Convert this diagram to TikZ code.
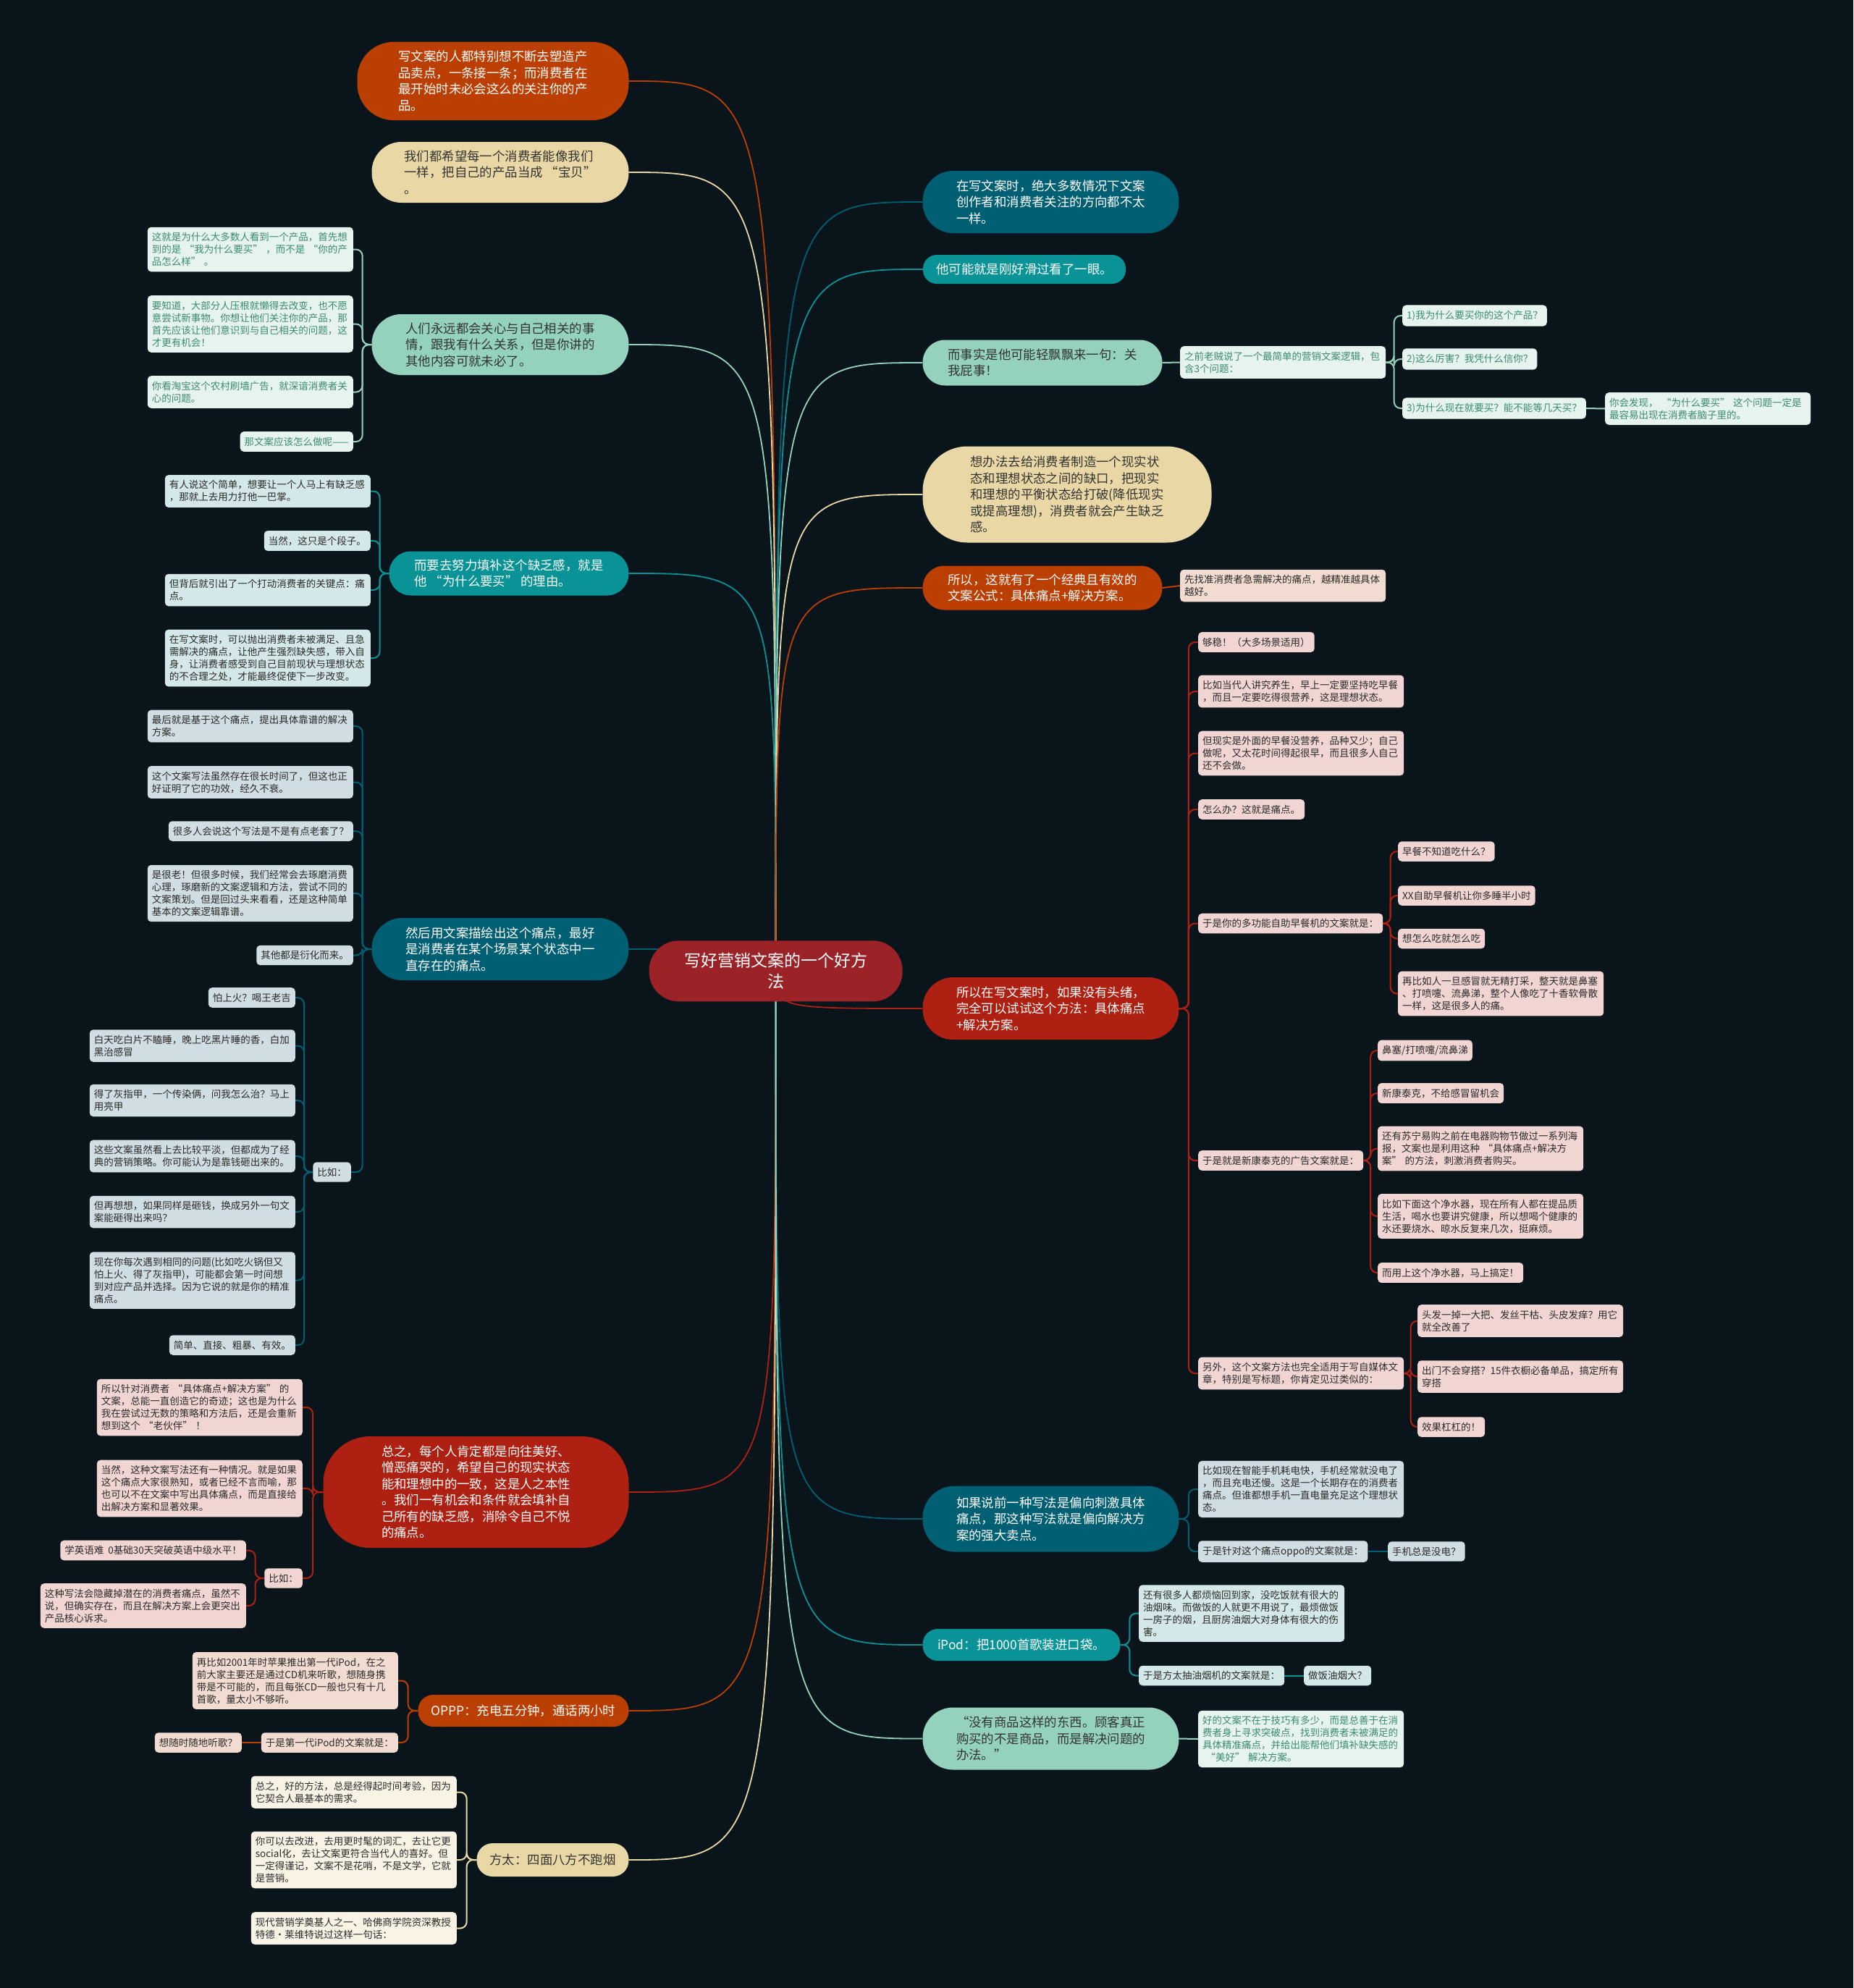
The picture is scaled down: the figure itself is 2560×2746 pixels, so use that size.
\documentclass[tikz,border=0pt]{standalone}
\usepackage{fontspec}
\setmainfont{Noto Sans CJK SC}
\usetikzlibrary{calc}
\pgfdeclarelayer{bg}
\pgfdeclarelayer{edges}
\pgfsetlayers{bg,edges,main}
\definecolor{bgc}{HTML}{0A141B}
\definecolor{cDT}{HTML}{005F73}
\definecolor{cT}{HTML}{0A9396}
\definecolor{cLT}{HTML}{94D2BD}
\definecolor{cB}{HTML}{E9D8A6}
\definecolor{cO}{HTML}{BB3E03}
\definecolor{cR}{HTML}{AE2012}
\definecolor{cC}{HTML}{9B2226}
\definecolor{fLT}{HTML}{E6F3EE}
\definecolor{tLT}{HTML}{3A8B72}
\definecolor{fT}{HTML}{D4E8E9}
\definecolor{fDT}{HTML}{D0DDE2}
\definecolor{fR}{HTML}{F0D5D3}
\definecolor{fO}{HTML}{F2DCD1}
\definecolor{fB}{HTML}{F8F3E5}
\definecolor{tDk}{HTML}{2B2B2B}
\definecolor{tMn}{HTML}{333333}
\newcommand{\LeafFnt}{\fontsize{13.5}{17}\selectfont}
\newcommand{\MainFnt}{\fontsize{17.4}{22.5}\selectfont}
\newcommand{\CtrFnt}{\fontsize{23}{29}\selectfont}
\begin{document}
\begin{tikzpicture}[x=1pt,y=-1pt,
 lf/.style={rounded corners=5pt, inner xsep=6pt, inner ysep=7.5pt, align=left, font=\LeafFnt, text=tDk},
 ml/.style={text width=272pt},
 kLT/.style={lf, fill=fLT, text=tLT},
 kT/.style={lf, fill=fT},
 kDT/.style={lf, fill=fDT},
 kR/.style={lf, fill=fR},
 kO/.style={lf, fill=fO},
 kB/.style={lf, fill=fB},
 mn/.style={align=left, font=\MainFnt, inner sep=2pt},
 lnk/.style={line width=2pt, rounded corners=9pt},
 mc/.style={line width=1.8pt},
]
\begin{pgfonlayer}{bg}
\fill[bgc] (0,0) rectangle (2560,2746);
\end{pgfonlayer}
\useasboundingbox (0,0) rectangle (2560,2746);

% center
\node[fill=cC, text=white, rounded corners=41pt, minimum width=350pt, minimum height=84pt, align=center, font=\CtrFnt] (C) at (1071.6,1341.3) {写好营销文案的一个好方\\法};

% left main nodes
\node[mn, fill=cO, text=white, rounded corners=50pt, minimum width=375pt, minimum height=108pt] (L1) at (681,112) {写文案的人都特别想不断去塑造产\\品卖点，一条接一条；而消费者在\\最开始时未必会这么的关注你的产\\品。};
\node[mn, fill=cB, text=tMn, rounded corners=41pt, minimum width=355pt, minimum height=84pt] (L2) at (691,238) {我们都希望每一个消费者能像我们\\一样，把自己的产品当成 “宝贝”\\。};
\node[mn, fill=cLT, text=tMn, rounded corners=41pt, minimum width=355pt, minimum height=84pt] (L3) at (691,476) {人们永远都会关心与自己相关的事\\情，跟我有什么关系，但是你讲的\\其他内容可就未必了。};
\node[mn, fill=cT, text=white, rounded corners=30pt, minimum width=331pt, minimum height=61pt] (L4) at (703,792) {而要去努力填补这个缺乏感，就是\\他 “为什么要买” 的理由。};
\node[mn, fill=cDT, text=white, rounded corners=42pt, minimum width=355pt, minimum height=86pt] (L5) at (691,1311) {然后用文案描绘出这个痛点，最好\\是消费者在某个场景某个状态中一\\直存在的痛点。};
\node[mn, fill=cR, text=white, rounded corners=65pt, minimum width=422pt, minimum height=154pt] (L6) at (657.5,2061) {总之，每个人肯定都是向往美好、\\憎恶痛哭的，希望自己的现实状态\\能和理想中的一致，这是人之本性\\。我们一有机会和条件就会填补自\\己所有的缺乏感，消除令自己不悦\\的痛点。};
\node[mn, fill=cO, text=white, rounded corners=21pt, minimum width=291pt, minimum height=44pt] (L7) at (723,2363) {OPPP：充电五分钟，通话两小时};
\node[mn, fill=cB, text=tMn, rounded corners=22pt, minimum width=210pt, minimum height=46pt] (L8) at (763.5,2569) {方太：四面八方不跑烟};

% right main nodes
\node[mn, fill=cDT, text=white, rounded corners=42pt, minimum width=354pt, minimum height=86pt] (R1) at (1451.5,279) {在写文案时，绝大多数情况下文案\\创作者和消费者关注的方向都不太\\一样。};
\node[mn, fill=cT, text=white, rounded corners=19pt, minimum width=280pt, minimum height=40pt] (R2) at (1415,372) {他可能就是刚好滑过看了一眼。};
\node[mn, fill=cLT, text=tMn, rounded corners=31pt, minimum width=331pt, minimum height=63pt] (R3) at (1440,501) {而事实是他可能轻飘飘来一句：关\\我屁事！};
\node[mn, fill=cB, text=tMn, rounded corners=62pt, minimum width=399pt, minimum height=133pt] (R4) at (1474,683) {想办法去给消费者制造一个现实状\\态和理想状态之间的缺口，把现实\\和理想的平衡状态给打破(降低现实\\或提高理想)，消费者就会产生缺乏\\感。};
\node[mn, fill=cO, text=white, rounded corners=30pt, minimum width=331pt, minimum height=61pt] (R5) at (1440,812) {所以，这就有了一个经典且有效的\\文案公式：具体痛点+解决方案。};
\node[mn, fill=cR, text=white, rounded corners=42pt, minimum width=354pt, minimum height=86pt] (R6) at (1451.5,1393) {所以在写文案时，如果没有头绪，\\完全可以试试这个方法：具体痛点\\+解决方案。};
\node[mn, fill=cDT, text=white, rounded corners=44pt, minimum width=354pt, minimum height=91pt] (R7) at (1451.5,2098) {如果说前一种写法是偏向刺激具体\\痛点，那这种写法就是偏向解决方\\案的强大卖点。};
\node[mn, fill=cT, text=white, rounded corners=21pt, minimum width=273pt, minimum height=44pt] (R8) at (1411,2272) {iPod：把1000首歌装进口袋。};
\node[mn, fill=cLT, text=tMn, rounded corners=42pt, minimum width=354pt, minimum height=86pt] (R9) at (1451.5,2401.5) {“没有商品这样的东西。顾客真正\\购买的不是商品，而是解决问题的\\办法。”};

% L3 leaves
\node[kLT, ml, anchor=east] (L3a) at (488,344.5) {这就是为什么大多数人看到一个产品，首先想\\到的是~“我为什么要买”~，而不是~“你的产\\品怎么样”~。};
\node[kLT, ml, anchor=east] (L3b) at (488,447.5) {要知道，大部分人压根就懒得去改变，也不愿\\意尝试新事物。你想让他们关注你的产品，那\\首先应该让他们意识到与自己相关的问题，这\\才更有机会！};
\node[kLT, ml, anchor=east] (L3c) at (488,541.5) {你看淘宝这个农村刷墙广告，就深谙消费者关\\心的问题。};
\node[kLT, anchor=east] (L3d) at (488,610) {那文案应该怎么做呢——};

% L4 leaves
\node[kT, ml, anchor=east] (L4a) at (512,678.5) {有人说这个简单，想要让一个人马上有缺乏感\\，那就上去用力打他一巴掌。};
\node[kT, anchor=east] (L4b) at (512,747) {当然，这只是个段子。};
\node[kT, ml, anchor=east] (L4c) at (512,815) {但背后就引出了一个打动消费者的关键点：痛\\点。};
\node[kT, ml, anchor=east] (L4d) at (512,909) {在写文案时，可以抛出消费者未被满足、且急\\需解决的痛点，让他产生强烈缺失感，带入自\\身，让消费者感受到自己目前现状与理想状态\\的不合理之处，才能最终促使下一步改变。};

% L5 leaves
\node[kDT, ml, anchor=east] (L5a) at (488,1003) {最后就是基于这个痛点，提出具体靠谱的解决\\方案。};
\node[kDT, ml, anchor=east] (L5b) at (488,1080.5) {这个文案写法虽然存在很长时间了，但这也正\\好证明了它的功效，经久不衰。};
\node[kDT, anchor=east] (L5c) at (488,1148) {很多人会说这个写法是不是有点老套了？};
\node[kDT, ml, anchor=east] (L5d) at (488,1234) {是很老！但很多时候，我们经常会去琢磨消费\\心理，琢磨新的文案逻辑和方法，尝试不同的\\文案策划。但是回过头来看看，还是这种简单\\基本的文案逻辑靠谱。};
\node[kDT, anchor=east] (L5e) at (488,1319.5) {其他都是衍化而来。};
\node[kDT, anchor=east] (L5f) at (485,1619) {比如：};
\node[kDT, anchor=east] (L5f1) at (408,1378) {怕上火？喝王老吉};
\node[kDT, ml, anchor=east] (L5f2) at (408,1444.5) {白天吃白片不瞌睡，晚上吃黑片睡的香，白加\\黑治感冒};
\node[kDT, ml, anchor=east] (L5f3) at (408,1520) {得了灰指甲，一个传染俩，问我怎么治？马上\\用亮甲};
\node[kDT, ml, anchor=east] (L5f4) at (408,1597) {这些文案虽然看上去比较平淡，但都成为了经\\典的营销策略。你可能认为是靠钱砸出来的。};
\node[kDT, ml, anchor=east] (L5f5) at (408,1674) {但再想想，如果同样是砸钱，换成另外一句文\\案能砸得出来吗？};
\node[kDT, ml, anchor=east] (L5f6) at (408,1768.5) {现在你每次遇到相同的问题(比如吃火锅但又\\怕上火、得了灰指甲)，可能都会第一时间想\\到对应产品并选择。因为它说的就是你的精准\\痛点。};
\node[kDT, anchor=east] (L5f7) at (408,1858) {简单、直接、粗暴、有效。};

% L6 leaves
\node[kR, ml, anchor=east] (L6a) at (418,1944) {所以针对消费者~“具体痛点+解决方案”~的\\文案，总能一直创造它的奇迹；这也是为什么\\我在尝试过无数的策略和方法后，还是会重新\\想到这个~“老伙伴”~！};
\node[kR, ml, anchor=east] (L6b) at (418,2056) {当然，这种文案写法还有一种情况。就是如果\\这个痛点大家很熟知，或者已经不言而喻，那\\也可以不在文案中写出具体痛点，而是直接给\\出解决方案和显著效果。};
\node[kR, anchor=east] (L6c) at (418,2180) {比如：};
\node[kR, anchor=east] (L6c1) at (340,2141.5) {学英语难~~0基础30天突破英语中级水平！};
\node[kR, ml, anchor=east] (L6c2) at (340,2218) {这种写法会隐藏掉潜在的消费者痛点，虽然不\\说，但确实存在，而且在解决方案上会更突出\\产品核心诉求。};

% L7 leaves
\node[kO, ml, anchor=east] (L7a) at (550,2321.5) {再比如2001年时苹果推出第一代iPod，在之\\前大家主要还是通过CD机来听歌，想随身携\\带是不可能的，而且每张CD一般也只有十几\\首歌，量太小不够听。};
\node[kO, anchor=east] (L7b) at (550,2407) {于是第一代iPod的文案就是：};
\node[kO, anchor=east] (L7b1) at (334,2407) {想随时随地听歌？};

% L8 leaves
\node[kB, ml, anchor=east] (L8a) at (631,2475.5) {总之，好的方法，总是经得起时间考验，因为\\它契合人最基本的需求。};
\node[kB, ml, anchor=east] (L8b) at (631,2569) {你可以去改进，去用更时髦的词汇，去让它更\\social化，去让文案更符合当代人的喜好。但\\一定得谨记，文案不是花哨，不是文学，它就\\是营销。};
\node[kB, ml, anchor=east] (L8c) at (631,2663.5) {现代营销学奠基人之一、哈佛商学院资深教授\\特德·莱维特说过这样一句话：};

% R3 leaves
\node[kLT, ml, anchor=west] (R3a) at (1630,500.5) {之前老贼说了一个最简单的营销文案逻辑，包\\含3个问题：};
\node[kLT, anchor=west] (R3a1) at (1937,436) {1)我为什么要买你的这个产品？};
\node[kLT, anchor=west] (R3a2) at (1937,496) {2)这么厉害？我凭什么信你？};
\node[kLT, anchor=west] (R3a3) at (1937,564) {3)为什么现在就要买？能不能等几天买？};
\node[kLT, ml, anchor=west] (R3a3x) at (2217,564.5) {你会发现，~“为什么要买”~这个问题一定是\\最容易出现在消费者脑子里的。};

% R5 leaf
\node[kO, ml, anchor=west] (R5a) at (1630,809) {先找准消费者急需解决的痛点，越精准越具体\\越好。};

% R6 leaves
\node[kR, anchor=west] (R6a) at (1655,887) {够稳！（大多场景适用）};
\node[kR, ml, anchor=west] (R6b) at (1655,955) {比如当代人讲究养生，早上一定要坚持吃早餐\\，而且一定要吃得很营养，这是理想状态。};
\node[kR, ml, anchor=west] (R6c) at (1655,1040.5) {但现实是外面的早餐没营养，品种又少；自己\\做呢，又太花时间得起很早，而且很多人自己\\还不会做。};
\node[kR, anchor=west] (R6d) at (1655,1118) {怎么办？这就是痛点。};
\node[kR, anchor=west] (R6e) at (1655,1275.5) {于是你的多功能自助早餐机的文案就是：};
\node[kR, anchor=west] (R6e1) at (1931,1176) {早餐不知道吃什么？};
\node[kR, anchor=west] (R6e2) at (1931,1237) {XX自助早餐机让你多睡半小时};
\node[kR, anchor=west] (R6e3) at (1931,1296.5) {想怎么吃就怎么吃};
\node[kR, ml, anchor=west] (R6e4) at (1931,1372.5) {再比如人一旦感冒就无精打采，整天就是鼻塞\\、打喷嚏、流鼻涕，整个人像吃了十香软骨散\\一样，这是很多人的痛。};
\node[kR, anchor=west] (R6f) at (1655,1603) {于是就是新康泰克的广告文案就是：};
\node[kR, anchor=west] (R6f1) at (1903,1451) {鼻塞/打喷嚏/流鼻涕};
\node[kR, anchor=west] (R6f2) at (1903,1510) {新康泰克，不给感冒留机会};
\node[kR, ml, anchor=west] (R6f3) at (1903,1586.5) {还有苏宁易购之前在电器购物节做过一系列海\\报，文案也是利用这种~“具体痛点+解决方\\案”~的方法，刺激消费者购买。};
\node[kR, ml, anchor=west] (R6f4) at (1903,1680) {比如下面这个净水器，现在所有人都在提品质\\生活，喝水也要讲究健康，所以想喝个健康的\\水还要烧水、晾水反复来几次，挺麻烦。};
\node[kR, anchor=west] (R6f5) at (1903,1758) {而用上这个净水器，马上搞定！};
\node[kR, ml, anchor=west] (R6g) at (1655,1897) {另外，这个文案方法也完全适用于写自媒体文\\章，特别是写标题，你肯定见过类似的：};
\node[kR, ml, anchor=west] (R6g1) at (1958,1824.5) {头发一掉一大把、发丝干枯、头皮发痒？用它\\就全改善了};
\node[kR, ml, anchor=west] (R6g2) at (1958,1901.5) {出门不会穿搭？15件衣橱必备单品，搞定所有\\穿搭};
\node[kR, anchor=west] (R6g3) at (1958,1971) {效果杠杠的！};

% R7 leaves
\node[kDT, ml, anchor=west] (R7a) at (1655,2057) {比如现在智能手机耗电快，手机经常就没电了\\，而且充电还慢。这是一个长期存在的消费者\\痛点。但谁都想手机一直电量充足这个理想状\\态。};
\node[kDT, anchor=west] (R7b) at (1655,2143) {于是针对这个痛点oppo的文案就是：};
\node[kDT, anchor=west] (R7b1) at (1917,2143) {手机总是没电？};

% R8 leaves
\node[kT, ml, anchor=west] (R8a) at (1573,2228.5) {还有很多人都烦恼回到家，没吃饭就有很大的\\油烟味。而做饭的人就更不用说了，最烦做饭\\一房子的烟，且厨房油烟大对身体有很大的伤\\害。};
\node[kT, anchor=west] (R8b) at (1573,2314.5) {于是方太抽油烟机的文案就是：};
\node[kT, anchor=west] (R8b1) at (1801,2314.5) {做饭油烟大？};

% R9 leaf
\node[kLT, ml, anchor=west] (R9a) at (1655,2402) {好的文案不在于技巧有多少，而是总善于在消\\费者身上寻求突破点，找到消费者未被满足的\\具体精准痛点，并给出能帮他们填补缺失感的\\~“美好”~解决方案。};

\begin{pgfonlayer}{edges}
\foreach \n/\c in {L1/cO,L2/cB,L3/cLT,L4/cT,L5/cDT,L6/cR,L7/cO,L8/cB}
  \draw[mc,draw=\c] (C.center) .. controls (C.center |- \n.east) .. (\n.east);
\foreach \n/\c in {R1/cDT,R2/cT,R3/cLT,R4/cB,R5/cO,R6/cR,R7/cDT,R8/cT,R9/cLT}
  \draw[mc,draw=\c] (C.center) .. controls (C.center |- \n.west) .. (\n.west);
% left groups
\foreach \k in {L3a,L3b,L3c,L3d}
  \draw[lnk,cLT] (L3.west) -- ($(L3.west)!.5!(L3a.east |- L3.west)$) |- (\k.east);
\foreach \k in {L4a,L4b,L4c,L4d}
  \draw[lnk,cT] (L4.west) -- ($(L4.west)!.5!(L4a.east |- L4.west)$) |- (\k.east);
\foreach \k in {L5a,L5b,L5c,L5d,L5e,L5f}
  \draw[lnk,cDT] (L5.west) -- ($(L5.west)!.5!(L5a.east |- L5.west)$) |- (\k.east);
\foreach \k in {L5f1,L5f2,L5f3,L5f4,L5f5,L5f6,L5f7}
  \draw[lnk,cDT] (L5f.west) -- ($(L5f.west)!.5!(L5f1.east |- L5f.west)$) |- (\k.east);
\foreach \k in {L6a,L6b,L6c}
  \draw[lnk,cR] (L6.west) -- ($(L6.west)!.5!(L6a.east |- L6.west)$) |- (\k.east);
\foreach \k in {L6c1,L6c2}
  \draw[lnk,cR] (L6c.west) -- ($(L6c.west)!.5!(L6c1.east |- L6c.west)$) |- (\k.east);
\foreach \k in {L7a,L7b}
  \draw[lnk,cO] (L7.west) -- ($(L7.west)!.5!(L7a.east |- L7.west)$) |- (\k.east);
\draw[lnk,cO] (L7b.west) -- (L7b1.east);
\foreach \k in {L8a,L8b,L8c}
  \draw[lnk,cB] (L8.west) -- ($(L8.west)!.5!(L8a.east |- L8.west)$) |- (\k.east);
% right groups
\draw[lnk,cLT] (R3.east) -- (R3a.west);
\foreach \k in {R3a1,R3a2,R3a3}
  \draw[lnk,cLT] (R3a.east) -- ($(R3a.east)!.5!(R3a1.west |- R3a.east)$) |- (\k.west);
\draw[lnk,cLT] (R3a3.east) -- (R3a3x.west);
\draw[lnk,cO] (R5.east) -- (R5a.west);
\foreach \k in {R6a,R6b,R6c,R6d,R6e,R6f,R6g}
  \draw[lnk,cR] (R6.east) -- ($(R6.east)!.5!(R6a.west |- R6.east)$) |- (\k.west);
\foreach \k in {R6e1,R6e2,R6e3,R6e4}
  \draw[lnk,cR] (R6e.east) -- ($(R6e.east)!.5!(R6e1.west |- R6e.east)$) |- (\k.west);
\foreach \k in {R6f1,R6f2,R6f3,R6f4,R6f5}
  \draw[lnk,cR] (R6f.east) -- ($(R6f.east)!.5!(R6f1.west |- R6f.east)$) |- (\k.west);
\foreach \k in {R6g1,R6g2,R6g3}
  \draw[lnk,cR] (R6g.east) -- ($(R6g.east)!.5!(R6g1.west |- R6g.east)$) |- (\k.west);
\foreach \k in {R7a,R7b}
  \draw[lnk,cDT] (R7.east) -- ($(R7.east)!.5!(R7a.west |- R7.east)$) |- (\k.west);
\draw[lnk,cDT] (R7b.east) -- (R7b1.west);
\foreach \k in {R8a,R8b}
  \draw[lnk,cT] (R8.east) -- ($(R8.east)!.5!(R8a.west |- R8.east)$) |- (\k.west);
\draw[lnk,cT] (R8b.east) -- (R8b1.west);
\draw[lnk,cLT] (R9.east) -- (R9a.west);
\end{pgfonlayer}
\end{tikzpicture}
\end{document}
